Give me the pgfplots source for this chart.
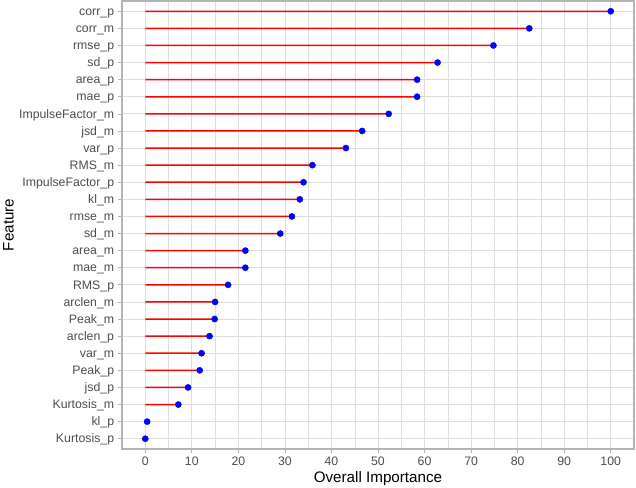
\documentclass[border=0pt]{standalone}
\usepackage{pgfplots}
\pgfplotsset{compat=1.18}
\usepackage{pgfplotstable}
\usepackage{fontspec}
\setmainfont{Liberation Sans}
\definecolor{gridc}{HTML}{DEDEDE}
\definecolor{borderc}{HTML}{B3B3B3}
\definecolor{labc}{HTML}{4D4D4D}
\pgfplotstableread{
y val
1 0
2 0.4
3 7.1
4 9.2
5 11.7
6 12.1
7 13.8
8 14.9
9 15.0
10 17.8
11 21.5
12 21.5
13 29.0
14 31.5
15 33.2
16 34.0
17 35.9
18 43.1
19 46.6
20 52.3
21 58.4
22 58.4
23 62.8
24 74.8
25 82.5
26 100
}\imp
\begin{document}
\begin{tikzpicture}
\begin{axis}[
  scale only axis, width=512bp, height=448bp,
  xmin=-5, xmax=105, ymin=0.4, ymax=26.6,
  xtick={0,10,...,100}, minor xtick={5,15,...,95},
  ytick={1,...,26},
  yticklabels={Kurtosis\_p,kl\_p,Kurtosis\_m,jsd\_p,Peak\_p,var\_m,arclen\_p,Peak\_m,arclen\_m,RMS\_p,mae\_m,area\_m,sd\_m,rmse\_m,kl\_m,ImpulseFactor\_p,RMS\_m,var\_p,jsd\_m,ImpulseFactor\_m,mae\_p,area\_p,sd\_p,rmse\_p,corr\_m,corr\_p},
  xtick pos=bottom, ytick pos=left, tick align=outside,
  major tick length=3.7bp, minor tick length=0pt,
  tick style={borderc, line width=0.7bp},
  grid=both,
  major grid style={gridc, line width=0.8bp},
  minor grid style={gridc, line width=0.45bp},
  axis line style={borderc, line width=1.2bp},
  /pgf/number format/assume math mode=true,
  ticklabel style={font=\fontsize{12.3bp}{14bp}\selectfont, text=labc, inner sep=0pt},
  yticklabel style={anchor=base east, yshift=-4.2bp, xshift=-4bp},
  xticklabel style={anchor=base, yshift=-12.6bp},
  xlabel={Overall Importance},
  ylabel={Feature},
  label style={font=\fontsize{15.2bp}{17bp}\selectfont, inner sep=0pt},
  xlabel style={at={(axis description cs:0.5,0)}, anchor=base, yshift=-33bp},
  ylabel style={at={(axis description cs:-0.2324,0.5)}, anchor=north},
]
\addplot[xbar, bar width=1.5bp, fill=red, draw=none] table[x=val, y=y] {\imp};
\addplot[only marks, mark=*, mark size=3.1bp, mark options={draw=blue, fill=blue}] table[x=val, y=y] {\imp};
\end{axis}
\pgfresetboundingbox
\path[use as bounding box] (-122bp,-39bp) rectangle (514bp,449bp);
\end{tikzpicture}
\end{document}
